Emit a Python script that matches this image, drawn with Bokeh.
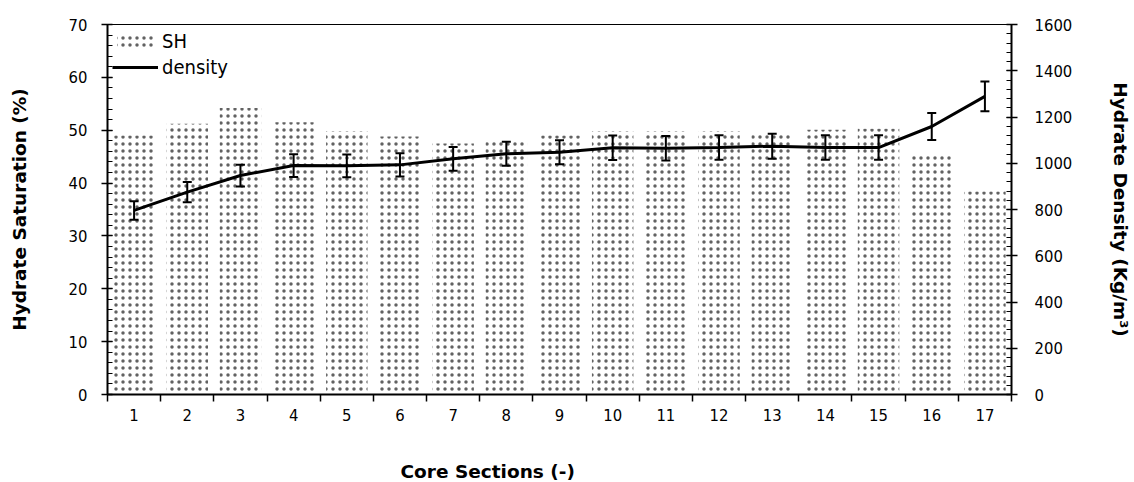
from bokeh.plotting import figure
from bokeh.models import (Range1d, LinearAxis, FixedTicker, SingleIntervalTicker,
                          Whisker, ColumnDataSource, Legend, LegendItem, TeeHead, Title)
from bokeh.embed import file_html
from bokeh.resources import INLINE

# ---- data ----
sections = list(range(1, 18))
sh_saturation = [49.0, 51.2, 54.2, 51.5, 49.8, 48.8, 47.5, 48.0, 49.0, 49.8,
                 49.8, 49.8, 49.6, 50.1, 50.3, 45.4, 38.4]
density = [796, 875, 947, 990, 989, 993, 1019, 1041, 1048, 1067,
           1065, 1068, 1074, 1068, 1068, 1159, 1289]
density_err = [40, 44, 47, 49, 49, 50, 51, 52, 52, 53,
               53, 53, 54, 53, 53, 58, 64]

TICK_FONT = "DejaVu Sans Condensed"
LABEL_FONT = "DejaVu Sans"

src = ColumnDataSource(dict(
    x=sections, sh=sh_saturation, d=density,
    lo=[d - e for d, e in zip(density, density_err)],
    hi=[d + e for d, e in zip(density, density_err)],
))

p = figure(width=1134, height=482, output_backend="svg", toolbar_location=None,
           x_range=Range1d(0.5, 17.5), y_range=Range1d(0, 70),
           min_border_left=107, min_border_right=122, min_border_top=24,
           min_border_bottom=88, background_fill_color="white",
           border_fill_color="white")
p.extra_y_ranges = {"dens": Range1d(0, 1600)}
p.xgrid.visible = False
p.ygrid.visible = False
p.outline_line_color = "black"
p.outline_line_width = 1

bars = p.vbar(x="x", top="sh", width=0.78, bottom=0, source=src,
              fill_color="white", line_color=None,
              hatch_pattern="dot", hatch_color="#626262",
              hatch_scale=7, hatch_weight=4.5)

line = p.line(x="x", y="d", source=src, y_range_name="dens",
              line_color="black", line_width=3)

wh = Whisker(base="x", lower="lo", upper="hi", source=src, y_range_name="dens",
             line_color="black", line_width=2, level="overlay",
             upper_head=TeeHead(size=9, line_width=2, line_color="black"),
             lower_head=TeeHead(size=9, line_width=2, line_color="black"))
p.add_layout(wh)

# x axis
xa = p.xaxis[0]
xa.ticker = FixedTicker(ticks=sections, minor_ticks=[s - 0.5 for s in sections] + [17.5])
xa.major_tick_out = 0
xa.major_tick_in = 0
xa.minor_tick_out = 7
xa.minor_tick_in = 0
xa.minor_tick_line_color = "black"
xa.minor_tick_line_width = 1.5
xa.axis_line_width = 2
xa.major_label_standoff = 7
xa.major_label_text_font = TICK_FONT
xa.major_label_text_font_size = "16.5px"
xa.major_label_text_color = "black"

# spacer between tick labels and the x axis title
p.add_layout(Title(text=" ", text_font=LABEL_FONT, text_font_size="18.5px",
                   standoff=12), "below")
# x axis title (placed left of centre as in the original)
p.add_layout(Title(text="Core Sections (-)", align="left", offset=293,
                   text_font=LABEL_FONT, text_font_style="bold",
                   text_font_size="18.5px", text_color="black",
                   standoff=0), "below")

# left axis
ya = p.yaxis[0]
ya.ticker = SingleIntervalTicker(interval=10, num_minor_ticks=5)
ya.major_tick_out = 6
ya.major_tick_in = 5
ya.minor_tick_out = 0
ya.minor_tick_in = 5
ya.major_tick_line_width = 1.5
ya.minor_tick_line_width = 1.2
ya.axis_line_width = 2
ya.major_label_standoff = 14
ya.major_label_text_font = TICK_FONT
ya.major_label_text_font_size = "16.5px"
ya.major_label_text_color = "black"
ya.axis_label = "Hydrate Saturation (%)"
ya.axis_label_text_font = LABEL_FONT
ya.axis_label_text_font_style = "bold"
ya.axis_label_text_font_size = "18.5px"
ya.axis_label_text_color = "black"
ya.axis_label_standoff = 36

# right axis
ra = LinearAxis(y_range_name="dens",
                ticker=SingleIntervalTicker(interval=200, num_minor_ticks=5))
ra.major_tick_out = 6
ra.major_tick_in = 5
ra.minor_tick_out = 0
ra.minor_tick_in = 5
ra.major_tick_line_width = 1.5
ra.minor_tick_line_width = 1.2
ra.axis_line_width = 2
ra.major_label_standoff = 17
ra.major_label_text_font = TICK_FONT
ra.major_label_text_font_size = "16.5px"
ra.major_label_text_color = "black"
ra.axis_label = "Hydrate Density (Kg/m³)"
ra.axis_label_text_font = LABEL_FONT
ra.axis_label_text_font_style = "bold"
ra.axis_label_text_font_size = "18.5px"
ra.axis_label_text_color = "black"
ra.axis_label_standoff = 35
p.add_layout(ra, "right")

legend = Legend(items=[LegendItem(label="SH", renderers=[bars]),
                       LegendItem(label="density", renderers=[line])],
                location="top_left", background_fill_alpha=0, border_line_color=None,
                label_text_font=TICK_FONT, label_text_font_size="20px",
                label_text_color="black",
                glyph_width=46, glyph_height=14, label_standoff=4,
                spacing=2, padding=3, margin=5)
p.add_layout(legend)

open("out.html", "w").write(file_html(p, INLINE))
